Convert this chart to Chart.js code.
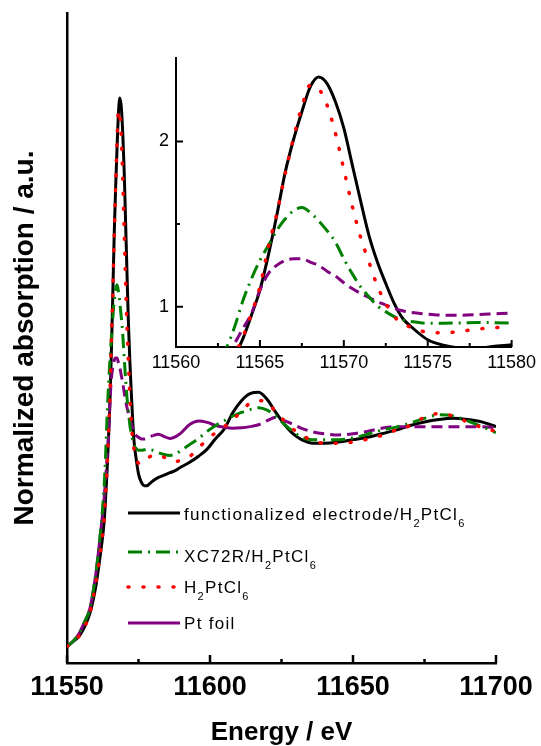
<!DOCTYPE html>
<html>
<head>
<meta charset="utf-8">
<script src="https://cdn.jsdelivr.net/npm/chart.js@4.4.1/dist/chart.umd.min.js"></script>
<style>
  body { margin: 0; background: #fff; }
  #wrap { position: relative; width: 541px; height: 746px; }
  #mainChart { position: absolute; left: 0; top: 0; }
  #insetChart { position: absolute; left: 130px; top: 40px; }
</style>
</head>
<body>
<div id="wrap">
  <canvas id="mainChart" width="541" height="746"></canvas>
  <canvas id="insetChart" width="411" height="345"></canvas>
</div>
<script>
// photon energy (eV), shared by all four spectra
var energy = [11550, 11552, 11554, 11556, 11558, 11560, 11561, 11562, 11563,
    11563.5, 11564, 11564.5, 11565, 11565.5, 11566, 11566.5, 11567, 11567.5, 11568,
    11568.5, 11569, 11569.5, 11570, 11570.5, 11571, 11571.5, 11572, 11572.5, 11573,
    11573.5, 11574, 11575, 11576, 11577, 11578, 11579, 11580,
    11582, 11584, 11586, 11588, 11590, 11593, 11596, 11599, 11602, 11605, 11608,
    11611, 11614, 11617, 11620, 11623, 11626, 11629, 11632, 11636, 11640, 11645,
    11650, 11655, 11660, 11665, 11670, 11675, 11680, 11685, 11690, 11695, 11700];

// normalized absorption
var electrode = [0.07, 0.09, 0.11, 0.15, 0.21, 0.32, 0.40, 0.49, 0.60,
    0.70, 0.81, 0.95, 1.10, 1.31, 1.55, 1.81, 2.01, 2.18, 2.33, 2.39, 2.35, 2.24, 2.08,
    1.86, 1.64, 1.43, 1.27, 1.14, 1.02, 0.93, 0.88, 0.80, 0.765, 0.75, 0.75, 0.76, 0.77,
    0.785, 0.795, 0.805, 0.815, 0.83, 0.85, 0.875, 0.905, 0.95, 0.99, 1.06, 1.11, 1.14,
    1.145, 1.115, 1.06, 1.01, 0.97, 0.945, 0.93, 0.93, 0.935, 0.945, 0.955, 0.97, 0.985,
    1.005, 1.02, 1.03, 1.035, 1.03, 1.02, 1.0];
var xc72r = [0.07, 0.09, 0.12, 0.17, 0.23, 0.37, 0.47, 0.59, 0.75,
    0.88, 1.04, 1.17, 1.28, 1.37, 1.46, 1.53, 1.58, 1.60, 1.57, 1.52, 1.46, 1.39, 1.29,
    1.20, 1.12, 1.06, 1.005, 0.97, 0.94, 0.92, 0.91, 0.90, 0.90, 0.902, 0.905, 0.903, 0.90,
    0.89, 0.882, 0.878, 0.885, 0.90, 0.925, 0.95, 0.98, 1.005, 1.025, 1.045, 1.06, 1.072,
    1.08, 1.07, 1.045, 1.01, 0.98, 0.955, 0.945, 0.945, 0.945, 0.952, 0.968, 0.985, 0.998,
    1.015, 1.035, 1.05, 1.045, 1.025, 1.0, 0.975];
var h2ptcl6 = [0.07, 0.09, 0.11, 0.15, 0.21, 0.33, 0.41, 0.50, 0.61,
    0.71, 0.82, 0.96, 1.12, 1.36, 1.56, 1.80, 2.02, 2.21, 2.34, 2.32, 2.22, 2.05, 1.83,
    1.61, 1.42, 1.27, 1.125, 1.02, 0.94, 0.90, 0.875, 0.845, 0.842, 0.852, 0.865, 0.873, 0.88,
    0.88, 0.87, 0.855, 0.852, 0.86, 0.875, 0.91, 0.945, 0.975, 1.0, 1.03, 1.065, 1.1,
    1.11, 1.105, 1.06, 1.025, 0.99, 0.965, 0.94, 0.93, 0.93, 0.935, 0.947, 0.963, 0.985,
    1.005, 1.04, 1.055, 1.045, 1.02, 0.997, 0.98];
var ptFoil = [0.07, 0.09, 0.12, 0.17, 0.23, 0.37, 0.47, 0.58, 0.70,
    0.78, 0.87, 0.96, 1.10, 1.20, 1.25, 1.28, 1.29, 1.29, 1.27, 1.25, 1.215, 1.185, 1.145,
    1.11, 1.08, 1.055, 1.03, 1.01, 0.99, 0.975, 0.965, 0.955, 0.948, 0.948, 0.952, 0.957, 0.962,
    0.968, 0.958, 0.95, 0.958, 0.975, 1.01, 1.024, 1.018, 1.005, 0.997, 0.993, 0.995, 1.0,
    1.008, 1.025, 1.04, 1.025, 1.01, 0.993, 0.978, 0.97, 0.965, 0.97, 0.98, 0.993, 1.0,
    1.0, 1.0, 1.0, 1.0, 1.0, 1.0, 0.995];

var seriesLabels = ['functionalized electrode/H_2PtCl_6', 'XC72R/H_2PtCl_6', 'H_2PtCl_6', 'Pt foil'];
var mainTicks = [11550, 11700, 50];
var insetTicks = [11560, 11580, 5];
// the Pt foil trace looks solid in this stretch of the full view
var ptFoilSolid = [[11550, 11563], [11580, 11614]];

var FONT = '"Liberation Sans", Arial, sans-serif';
Chart.defaults.font.family = FONT;
Chart.defaults.color = '#000';

function pts(vals) {
    return energy.map(function(e, i) { return {x: e, y: vals[i]}; });
}

function makeDatasets() {
    return [{
        label: seriesLabels[0], data: pts(electrode), borderColor: '#000000',
        borderWidth: 3, order: 4
    }, {
        label: seriesLabels[1], data: pts(xc72r), borderColor: '#008000',
        borderWidth: 3, borderDash: [14, 6, 2, 6], order: 2
    }, {
        label: seriesLabels[2], data: pts(h2ptcl6), borderColor: '#ff0000',
        borderWidth: 3.5, borderDash: [1, 14], borderCapStyle: 'round', order: 1
    }, {
        label: seriesLabels[3], data: pts(ptFoil), borderColor: '#800080',
        borderWidth: 3, borderDash: [11, 6], order: 3,
        segment: {
            borderDash: function(ctx) {
                var x = ctx.p0.parsed.x;
                for (var r of ptFoilSolid) {
                    if (x >= r[0] && x < r[1]) return [];
                }
                return [11, 6];
            }
        }
    }].map(function(d) {
        d.pointRadius = 0;
        d.fill = false;
        d.cubicInterpolationMode = 'monotone';
        return d;
    });
}

// tick marks pointing into the plot, majors on the ticks, minors halfway
var innerTicks = {
    id: 'innerTicks',
    afterDraw: function(chart, args, opts) {
        var ctx = chart.ctx;
        ctx.save();
        ctx.strokeStyle = '#000';
        ctx.lineWidth = opts.width;
        (opts.axes || []).forEach(function(a) {
            var scale = chart.scales[a.id];
            var vals = scale.ticks.map(function(t) { return t.value; });
            ctx.beginPath();
            var mark = function(p, len) {
                if (scale.isHorizontal()) {
                    ctx.moveTo(p, scale.top); ctx.lineTo(p, scale.top - len);
                } else {
                    ctx.moveTo(scale.right, p); ctx.lineTo(scale.right + len, p);
                }
            };
            vals.forEach(function(v, i) {
                mark(scale.getPixelForValue(v), a.major);
                if (i < vals.length - 1) mark(scale.getPixelForValue((v + vals[i + 1]) / 2), a.minor);
            });
            ctx.stroke();
        });
        ctx.restore();
    }
};

function drawLabel(ctx, text, x, y) {
    text.split(/(_\d)/).forEach(function(part) {
        if (!part) return;
        if (part[0] === '_') {
            ctx.font = '11px ' + FONT;
            ctx.fillText(part.slice(1), x, y + 7);
            x += ctx.measureText(part.slice(1)).width;
        } else {
            ctx.font = '17px ' + FONT;
            ctx.fillText(part, x, y);
            x += ctx.measureText(part).width;
        }
    });
}

var seriesKey = {
    id: 'seriesKey',
    afterDatasetsDraw: function(chart, args, opts) {
        var ctx = chart.ctx;
        ctx.save();
        ctx.letterSpacing = '1.3px';
        ctx.fillStyle = '#000';
        ctx.textBaseline = 'alphabetic';
        chart.data.datasets.forEach(function(ds, i) {
            var ly = opts.lineY[i];
            ctx.strokeStyle = ds.borderColor;
            ctx.lineWidth = ds.borderWidth;
            ctx.lineCap = ds.borderCapStyle || 'butt';
            ctx.setLineDash(i === 3 ? [] : (ds.borderDash || []));
            ctx.beginPath();
            ctx.moveTo(opts.x0, ly);
            ctx.lineTo(opts.x1, ly);
            ctx.stroke();
            drawLabel(ctx, ds.label, opts.textX, opts.baseY[i]);
        });
        ctx.restore();
    }
};

function linearAxis(range, opts) {
    return {
        type: 'linear', min: range[0], max: range[1],
        ticks: {
            stepSize: range[2], autoSkip: false, maxRotation: 0, includeBounds: false,
            padding: opts.pad, color: '#000', font: opts.font,
            callback: function(v) { return String(v); }
        },
        grid: {display: false, drawTicks: false},
        border: {display: true, color: '#000', width: opts.border}
    };
}

window.onload = function() {
    var mx = linearAxis(mainTicks, {pad: 8, font: {size: 27, weight: 'bold'}, border: 2.5});
    mx.title = {display: true, text: 'Energy / eV', color: '#000',
        font: {size: 26, weight: 'bold', lineHeight: 1}, padding: 0};
    mx.afterFit = function(s) { s.height = 83; };

    new Chart(document.getElementById('mainChart'), {
        type: 'line',
        data: {datasets: makeDatasets()},
        options: {
            responsive: false, animation: false, devicePixelRatio: 1,
            layout: {padding: {top: 13, right: 45, left: 0, bottom: 0}},
            plugins: {
                legend: {display: false}, tooltip: {enabled: false},
                innerTicks: {width: 2.5, axes: [{id: 'x', major: 8, minor: 4}]},
                seriesKey: {x0: 128, x1: 180, textX: 184,
                    lineY: [513, 552, 587, 623], baseY: [520, 562, 593, 629]}
            },
            scales: {
                x: mx,
                y: {
                    min: 0, max: 2.75,
                    ticks: {display: false},
                    grid: {display: false, drawTicks: false},
                    border: {display: true, color: '#000', width: 2.5},
                    title: {display: true, text: 'Normalized absorption / a.u.', color: '#000',
                        font: {size: 28, weight: 'bold', lineHeight: 1}, padding: {top: 11, bottom: 0}},
                    afterFit: function(s) { s.width = 67; }
                }
            }
        },
        plugins: [innerTicks, seriesKey]
    });

    var ix = linearAxis(insetTicks, {pad: 5, font: {size: 18}, border: 2});
    ix.afterFit = function(s) { s.height = 38; };
    var iy = linearAxis([0.756, 2.506, 1], {pad: 7, font: {size: 18}, border: 2});
    iy.afterFit = function(s) { s.width = 46; };

    new Chart(document.getElementById('insetChart'), {
        type: 'line',
        data: {datasets: makeDatasets()},
        options: {
            responsive: false, animation: false, devicePixelRatio: 1,
            layout: {padding: {top: 13, right: 28, left: 0, bottom: 0}},
            plugins: {
                legend: {display: false}, tooltip: {enabled: false},
                innerTicks: {width: 2, axes: [{id: 'x', major: 7, minor: 4}, {id: 'y', major: 7, minor: 4}]}
            },
            scales: {x: ix, y: iy}
        },
        plugins: [innerTicks]
    });
};
</script>
</body>
</html>
